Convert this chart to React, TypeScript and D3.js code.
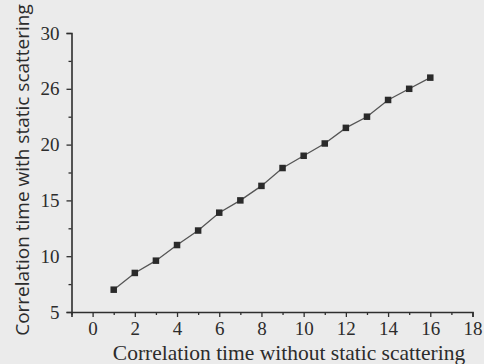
import React, { useRef, useEffect } from 'react';
import * as d3 from 'd3';

// data
const xValues = [1, 2, 3, 4, 5, 6, 7, 8, 9, 10, 11, 12, 13, 14, 15, 16];
const yValues = [7, 8.5, 9.6, 11, 12.3, 13.9, 15, 16.3, 17.9, 19, 20.1, 21.5, 22.5, 24, 25, 26];
const xTicks = [0, 2, 4, 6, 8, 10, 12, 14, 16, 18];
const xMinor = [-1, 1, 3, 5, 7, 9, 11, 13, 15, 17];
const yTicks = [5, 10, 15, 20, 25, 30];
const yTickLabels = ['5', '10', '15', '20', '26', '30'];
const yMinor = [7.5, 12.5, 17.5, 22.5, 27.5];
const xTitle = 'Correlation time without static scattering';
const yTitle = 'Correlation time with static scattering';

const W = 484;
const H = 364;

const App = () => {
  const svgRef = useRef<SVGSVGElement>(null);

  useEffect(() => {
    const svg = d3.select(svgRef.current);
    svg.selectAll('*').remove();

    const ink = '#2e2e2e';
    const x = d3.scaleLinear().domain([-1, 18]).range([71.5, 472.5]);
    const y = d3.scaleLinear().domain([5, 30]).range([312, 33]);

    svg.append('rect').attr('width', W).attr('height', H).attr('fill', '#ebebeb');

    // x axis
    const gx = svg.append('g').attr('transform', `translate(0,${y(5)})`);
    gx.call(
      d3.axisBottom(x).tickValues(xTicks).tickSize(5).tickPadding(5)
        .tickFormat(d => String(d))
    );
    gx.append('g').call(d3.axisBottom(x).tickValues(xMinor).tickSize(3).tickFormat(() => ''))
      .select('.domain').remove();

    // y axis
    const gy = svg.append('g').attr('transform', `translate(${x(-1)},0)`);
    gy.call(
      d3.axisLeft(y).tickValues(yTicks).tickSize(5).tickPadding(7)
        .tickFormat((d, i) => yTickLabels[i])
    );
    gy.append('g').call(d3.axisLeft(y).tickValues(yMinor).tickSize(3).tickFormat(() => ''))
      .select('.domain').remove();

    svg.selectAll('.domain').attr('stroke', ink).attr('stroke-width', 1.6);
    svg.selectAll('.tick line').attr('stroke', ink).attr('stroke-width', 1.3);
    svg.selectAll('.tick text')
      .attr('fill', '#2c2c2c')
      .attr('font-family', '"Liberation Serif", serif')
      .attr('font-size', 19);

    // line + square markers
    const pts = xValues.map((v, i) => [v, yValues[i]] as [number, number]);
    const line = d3.line<[number, number]>().x(d => x(d[0])).y(d => y(d[1]));
    svg.append('path')
      .attr('d', line(pts))
      .attr('fill', 'none')
      .attr('stroke', '#555')
      .attr('stroke-width', 1.3);

    const s = 6.5;
    svg.append('g').selectAll('rect')
      .data(pts)
      .enter().append('rect')
      .attr('x', d => x(d[0]) - s / 2)
      .attr('y', d => y(d[1]) - s / 2)
      .attr('width', s)
      .attr('height', s)
      .attr('fill', '#2a2a2a');

    // titles
    svg.append('text')
      .attr('x', 289)
      .attr('y', 360)
      .attr('text-anchor', 'middle')
      .attr('font-family', '"Liberation Serif", serif')
      .attr('font-size', 21.5)
      .attr('fill', '#2c2c2c')
      .text(xTitle);

    svg.append('text')
      .attr('transform', 'translate(29,170) rotate(-90)')
      .attr('text-anchor', 'middle')
      .attr('font-family', '"Open Sans", sans-serif')
      .attr('font-size', 19)
      .attr('fill', '#2c2c2c')
      .text(yTitle);
  }, []);

  return (
    <svg
      ref={svgRef}
      width={W}
      height={H}
      style={{ position: 'absolute', left: 0, top: 0 }}
    />
  );
};

export default App;
